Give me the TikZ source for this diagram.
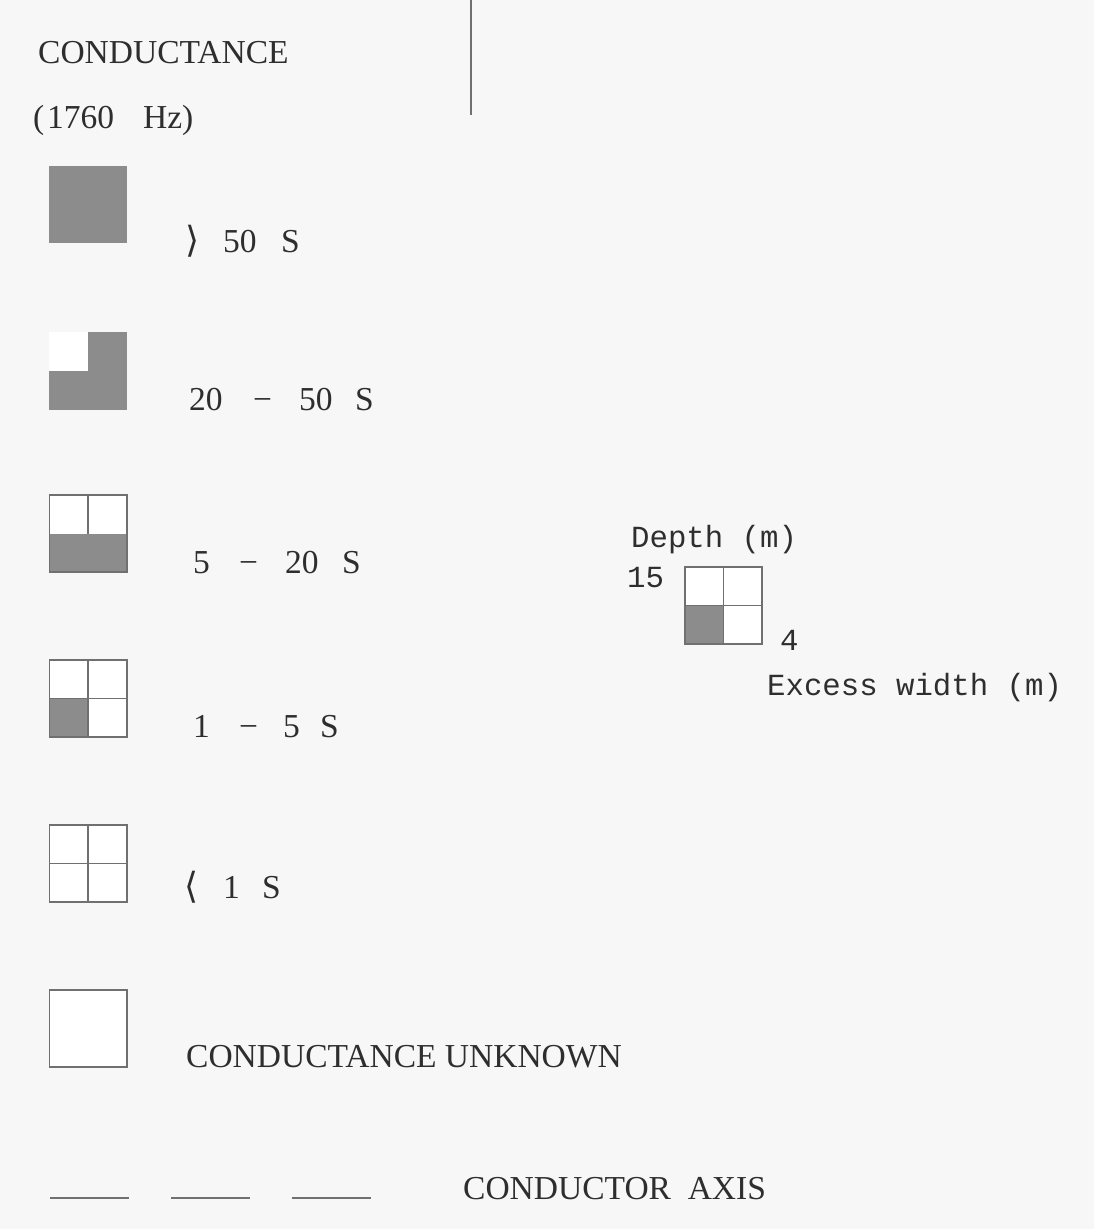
\documentclass[tikz,border=0pt]{standalone}
\usepackage{fontspec}
\setmainfont{Liberation Serif}
\newfontfamily\monof{Liberation Mono}
\newfontfamily\symf{DejaVu Sans}
\definecolor{bgc}{HTML}{F7F7F7}
\definecolor{linec}{HTML}{707070}
\definecolor{fillc}{HTML}{8C8C8C}
\definecolor{textc}{HTML}{2E2E2E}
\begin{document}
\begin{tikzpicture}[x=1pt,y=-1pt,
  sq/.style={minimum size=77pt, inner sep=0pt, fill=white},
  ln/.style={draw=linec, line width=1.6pt},
  shade/.style={fill=fillc},
  lbl/.style={anchor=base west, inner sep=0pt, text=textc, font=\fontsize{33.5}{38}\selectfont},
  mlbl/.style={anchor=base west, inner sep=0pt, text=textc, font=\monof\fontsize{30.7}{36}\selectfont},
  dashln/.style={draw=linec, line width=1.4pt, dash pattern=on 79pt off 42pt}]
\useasboundingbox[fill=bgc] (0,0) rectangle (1094,1229);

% top rule
\coordinate (vt) at (471,0);
\coordinate (vb) at (471,115);
\draw[ln] (vt) -- (vb);

% titles
\node[lbl] (title) at (38,63) {CONDUCTANCE};
\node[lbl] (freq) at (33,128) {\makebox[14pt][l]{(}\makebox[96pt][l]{1760}Hz)};

% legend squares
\node[sq] (s1) at (88,204.5) {};
\node[sq] (s2) at (88,371) {};
\node[sq] (s3) at (88,533.5) {};
\node[sq] (s4) at (88,698.5) {};
\node[sq] (s5) at (88,863.5) {};
\node[sq] (s6) at (88,1028.5) {};

% fills
\fill[shade] (s1.north west) rectangle (s1.south east);
\fill[shade] (s2.north west) rectangle (s2.south east);
\fill[white] (s2.north west) rectangle (s2.center);
\fill[shade] (s3.west) rectangle (s3.south east);
\fill[shade] (s4.west) rectangle (s4.south);

% outlines
\draw[ln] (s3.north west) rectangle (s3.south east);
\draw[ln] (s3.north) -- (s3.center);
\draw[ln] (s4.north west) rectangle (s4.south east);
\draw[ln] (s4.north) -- (s4.south);
\draw[ln] (s4.west) -- (s4.east);
\draw[ln] (s5.north west) rectangle (s5.south east);
\draw[ln] (s5.north) -- (s5.south);
\draw[ln] (s5.west) -- (s5.east);
\draw[ln] (s6.north west) rectangle (s6.south east);

% labels
\node[lbl] (t1) at (185,252) {\makebox[38pt][l]{\symf\fontsize{36}{40}\selectfont ⟩}\makebox[58pt][l]{50}S};
\node[lbl] (t2) at (189,410) {\makebox[64pt][l]{20}\makebox[46pt][l]{−}\makebox[56pt][l]{50}S};
\node[lbl] (t3) at (193,573) {\makebox[46pt][l]{5}\makebox[46pt][l]{−}\makebox[57pt][l]{20}S};
\node[lbl] (t4) at (193,737) {\makebox[46pt][l]{1}\makebox[44pt][l]{−}\makebox[37pt][l]{5}S};
\node[lbl] (t5) at (184,898) {\makebox[39pt][l]{\symf\fontsize{36}{40}\selectfont ⟨}\makebox[39pt][l]{1}S};
\node[lbl] (t6) at (186,1067) {CONDUCTANCE UNKNOWN};

% conductor axis
\coordinate (a1) at (50,1198);
\coordinate (a2) at (371,1198);
\draw[dashln] (a1) -- (a2);
\node[lbl] (t7) at (463,1199) {CONDUCTOR\hspace{0.5em}AXIS};

% depth key
\node[sq] (d) at (723.5,605.5) {};
\fill[shade] (d.west) rectangle (d.south);
\draw[ln] (d.north west) rectangle (d.south east);
\draw[ln] (d.north) -- (d.south);
\draw[ln] (d.west) -- (d.east);
\node[mlbl] (dep) at (631,547) {Depth (m)};
\node[mlbl] (n15) at (627,587) {15};
\node[mlbl] (n4) at (780,650) {4};
\node[mlbl] (exw) at (767,695) {Excess width (m)};
\end{tikzpicture}
\end{document}
